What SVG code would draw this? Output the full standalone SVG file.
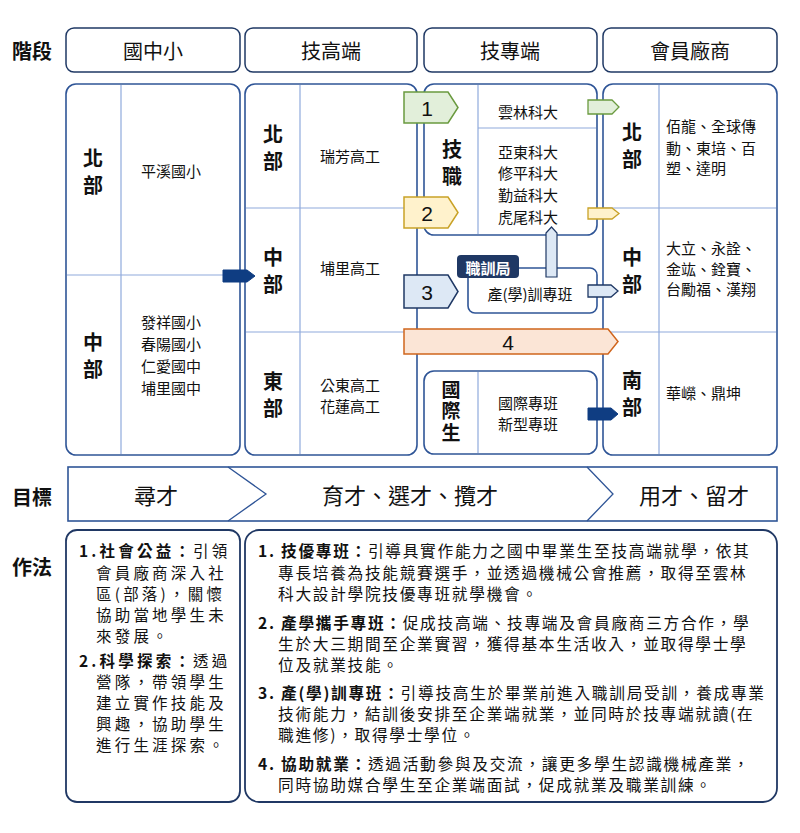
<svg xmlns="http://www.w3.org/2000/svg" width="800" height="833" viewBox="0 0 800 833">
<style>
text{font-family:"Noto Sans CJK TC","Noto Sans CJK SC",sans-serif;fill:#111;dominant-baseline:central}
.hdr{fill:#fff;stroke:#1f3864;stroke-width:1.5}
.hl{font-size:20px;text-anchor:middle}
.lab{font-size:20px;font-weight:bold}
.pan{fill:#fff;stroke:#2f5597;stroke-width:1.6}
.div{stroke:#8faadc;stroke-width:1.2;fill:none}
.reg{font-size:20px;font-weight:bold;writing-mode:vertical-rl;text-anchor:start;letter-spacing:7px}
.reg3{font-size:19px;font-weight:bold;writing-mode:vertical-rl;text-anchor:start;letter-spacing:2.5px}
.sch{font-size:15px;text-anchor:middle}
.co{font-size:15px}
.num{font-family:"Liberation Sans",sans-serif;font-size:21px;text-anchor:middle}
.goal{font-size:22px;text-anchor:middle}
.box{fill:#fff;stroke:#203864;stroke-width:1.8}
.bt{font-size:15.7px;letter-spacing:1.7px}
.lt{font-size:15.5px;letter-spacing:3.2px}
</style>
<rect width="800" height="833" fill="#fff"/>
<g id="labels">
<text class="lab" x="12" y="50">階段</text>
<text class="lab" x="12" y="496">目標</text>
<text class="lab" x="12" y="566">作法</text>
</g>
<g id="hdr-junior"><rect class="hdr" x="66" y="28" width="174" height="44" rx="8"/><text class="hl" x="153" y="50">國中小</text></g>
<g id="hdr-senior"><rect class="hdr" x="245" y="28" width="172" height="44" rx="8"/><text class="hl" x="331" y="50">技高端</text></g>
<g id="hdr-college"><rect class="hdr" x="424" y="28" width="173" height="44" rx="8"/><text class="hl" x="510" y="50">技專端</text></g>
<g id="hdr-member"><rect class="hdr" x="603" y="28" width="174" height="44" rx="8"/><text class="hl" x="690" y="50">會員廠商</text></g>

<g id="panel-junior">
<rect class="pan" x="66" y="84" width="174" height="371" rx="10"/>
<line class="div" x1="121" y1="85" x2="121" y2="454"/>
<line class="div" x1="67" y1="275" x2="239" y2="275"/>
<text class="reg" x="93" y="148">北部</text>
<text class="sch" x="171" y="170">平溪國小</text>
<text class="reg" x="93" y="332">中部</text>
<text class="sch" x="171" y="321">發祥國小</text>
<text class="sch" x="171" y="343">春陽國小</text>
<text class="sch" x="171" y="365">仁愛國中</text>
<text class="sch" x="171" y="387">埔里國中</text>
</g>

<g id="panel-senior">
<rect class="pan" x="245" y="84" width="172" height="371" rx="10"/>
<line class="div" x1="300" y1="85" x2="300" y2="454"/>
<line class="div" x1="246" y1="208" x2="416" y2="208"/>
<line class="div" x1="246" y1="332" x2="416" y2="332"/>
<text class="reg" x="273" y="124">北部</text>
<text class="sch" x="350" y="155">瑞芳高工</text>
<text class="reg" x="273" y="247">中部</text>
<text class="sch" x="350" y="267">埔里高工</text>
<text class="reg" x="273" y="371">東部</text>
<text class="sch" x="350" y="384">公東高工</text>
<text class="sch" x="350" y="405">花蓮高工</text>
</g>

<g id="box-tech">
<rect class="pan" x="424" y="84" width="173" height="151" rx="10"/>
<line class="div" x1="478" y1="85" x2="478" y2="234"/>
<line class="div" x1="478" y1="128" x2="596" y2="128"/>
<text class="reg" x="452" y="139">技職</text>
<text class="sch" x="528" y="111">雲林科大</text>
<text class="sch" x="528" y="151">亞東科大</text>
<text class="sch" x="528" y="172">修平科大</text>
<text class="sch" x="528" y="194">勤益科大</text>
<text class="sch" x="528" y="216">虎尾科大</text>
</g>

<g id="box-vocational">
<rect class="pan" x="468" y="268" width="129" height="45" rx="7"/>
<text class="sch" x="530" y="293">產(學)訓專班</text>
<rect x="457" y="255" width="62" height="23" rx="4" fill="#1f3864"/>
<text x="488" y="267" style="font-size:15px;font-weight:bold;fill:#fff;text-anchor:middle">職訓局</text>
</g>

<g id="box-intl">
<rect class="pan" x="424" y="371" width="173" height="83" rx="10"/>
<line class="div" x1="478" y1="372" x2="478" y2="453"/>
<text class="reg3" x="451" y="380">國際生</text>
<text class="sch" x="528" y="402">國際專班</text>
<text class="sch" x="528" y="423">新型專班</text>
</g>

<g id="panel-member">
<rect class="pan" x="603" y="84" width="174" height="371" rx="10"/>
<line class="div" x1="659" y1="85" x2="659" y2="454"/>
<line class="div" x1="604" y1="208" x2="776" y2="208"/>
<line class="div" x1="604" y1="332" x2="776" y2="332"/>
<text class="reg" x="632" y="122">北部</text>
<text class="co" x="666" y="125">佰龍、全球傳</text>
<text class="co" x="666" y="147">動、東培、百</text>
<text class="co" x="666" y="167">塑、達明</text>
<text class="reg" x="632" y="247">中部</text>
<text class="co" x="666" y="247">大立、永詮、</text>
<text class="co" x="666" y="268">金竑、銓寶、</text>
<text class="co" x="666" y="288">台勵福、漢翔</text>
<text class="reg" x="632" y="370">南部</text>
<text class="co" x="666" y="392">華嶸、鼎坤</text>
</g>

<g id="connectors">
<polygon points="223,270 247,270 255,276 247,282 223,282" fill="#0f3d82" stroke="#0f3d82" stroke-width="1"/>
<polygon points="404,92 448,92 458,107.5 448,123 404,123" fill="#e2efda" stroke="#6a9a3f" stroke-width="1.5"/>
<text class="num" x="427" y="108">1</text>
<polygon points="404,197 448,197 458,212.5 448,228 404,228" fill="#fff2cc" stroke="#c9a227" stroke-width="1.5"/>
<text class="num" x="427" y="213">2</text>
<polygon points="404,275 448,275 458,291.5 448,308 404,308" fill="#dde8f5" stroke="#1f3864" stroke-width="1.5"/>
<text class="num" x="427" y="292">3</text>
<polygon points="404,329 608,329 618,341.5 608,354 404,354" fill="#fbe5d6" stroke="#d0651d" stroke-width="1.5"/>
<text class="num" x="508" y="342">4</text>
<polygon points="546,277 546,233 551.5,227 557,233 557,277" fill="#dde8f5" stroke="#1f3864" stroke-width="1.2"/>
<polygon points="588,100 612,100 619,107 612,114 588,114" fill="#e2efda" stroke="#6a9a3f" stroke-width="1.3"/>
<polygon points="588,208 612,208 619,213.5 612,219 588,219" fill="#fff2cc" stroke="#c9a227" stroke-width="1.3"/>
<polygon points="588,285 611,285 618,291 611,297 588,297" fill="#dde8f5" stroke="#1f3864" stroke-width="1.3"/>
<polygon points="588,408 611,408 618,414 611,420 588,420" fill="#0f3d82" stroke="#0f3d82" stroke-width="1"/>
</g>

<g id="goals">
<rect x="68" y="467" width="709" height="54" fill="#fff" stroke="#2f5597" stroke-width="1.6"/>
<polyline points="228,467 266,494 228,521" fill="none" stroke="#2f5597" stroke-width="1.3"/>
<polyline points="587,467 613,494 587,521" fill="none" stroke="#2f5597" stroke-width="1.3"/>
<text class="goal" x="156" y="494">尋才</text>
<text class="goal" x="410" y="494">育才、選才、攬才</text>
<text class="goal" x="694" y="494">用才、留才</text>
</g>

<g id="method-left">
<rect class="box" x="66" y="530" width="174" height="272" rx="11"/>
<text class="lt" x="79" y="550"><tspan font-weight="bold">1.社會公益：</tspan>引領</text>
<text class="lt" x="96" y="572">會員廠商深入社</text>
<text class="lt" x="96" y="593">區(部落)，關懷</text>
<text class="lt" x="96" y="614">協助當地學生未</text>
<text class="lt" x="96" y="635">來發展。</text>
<text class="lt" x="79" y="660"><tspan font-weight="bold">2.科學探索：</tspan>透過</text>
<text class="lt" x="96" y="681">營隊，帶領學生</text>
<text class="lt" x="96" y="702">建立實作技能及</text>
<text class="lt" x="96" y="723">興趣，協助學生</text>
<text class="lt" x="96" y="744">進行生涯探索。</text>
</g>

<g id="method-right">
<rect class="box" x="245" y="530" width="532" height="272" rx="14"/>
<text class="bt" x="258" y="550"><tspan font-weight="bold">1. 技優專班：</tspan>引導具實作能力之國中畢業生至技高端就學，依其</text>
<text class="bt" x="278" y="572">專長培養為技能競賽選手，並透過機械公會推薦，取得至雲林</text>
<text class="bt" x="278" y="593">科大設計學院技優專班就學機會。</text>
<text class="bt" x="258" y="622"><tspan font-weight="bold">2. 產學攜手專班：</tspan>促成技高端、技專端及會員廠商三方合作，學</text>
<text class="bt" x="278" y="643">生於大三期間至企業實習，獲得基本生活收入，並取得學士學</text>
<text class="bt" x="278" y="664">位及就業技能。</text>
<text class="bt" x="258" y="692"><tspan font-weight="bold">3. 產(學)訓專班：</tspan>引導技高生於畢業前進入職訓局受訓，養成專業</text>
<text class="bt" x="278" y="713">技術能力，結訓後安排至企業端就業，並同時於技專端就讀(在</text>
<text class="bt" x="278" y="734">職進修)，取得學士學位。</text>
<text class="bt" x="258" y="763"><tspan font-weight="bold">4. 協助就業：</tspan>透過活動參與及交流，讓更多學生認識機械產業，</text>
<text class="bt" x="278" y="784">同時協助媒合學生至企業端面試，促成就業及職業訓練。</text>
</g>
</svg>
